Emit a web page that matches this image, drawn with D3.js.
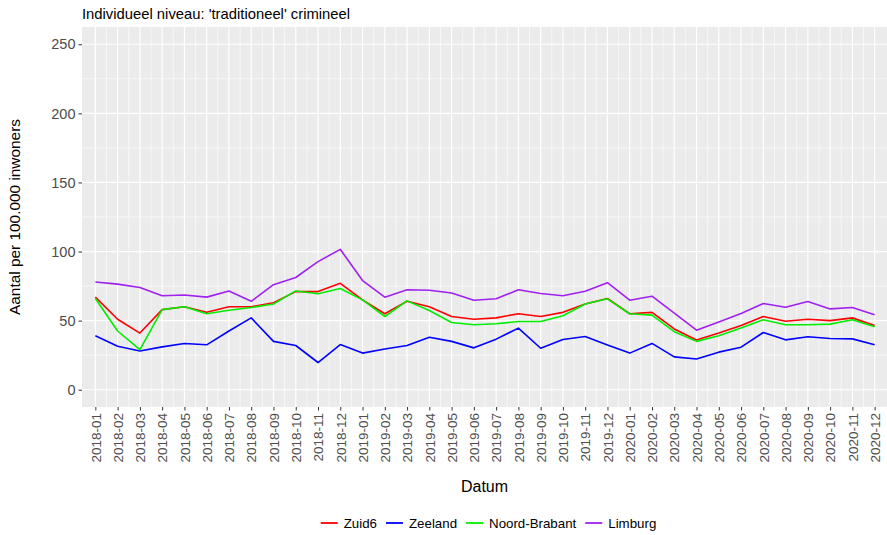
<!DOCTYPE html>
<html>
<head>
<meta charset="utf-8">
<script src="https://cdn.jsdelivr.net/npm/d3@7"></script>
<style>
    body { margin: 0; background: #fff; }
    text { font-family: "Liberation Sans", Arial, sans-serif; }
</style>
</head>
<body>
<div id="chart"></div>
<script>
/*
 * Data
 * */

var months = [
    '2018-01', '2018-02', '2018-03', '2018-04', '2018-05', '2018-06',
    '2018-07', '2018-08', '2018-09', '2018-10', '2018-11', '2018-12',
    '2019-01', '2019-02', '2019-03', '2019-04', '2019-05', '2019-06',
    '2019-07', '2019-08', '2019-09', '2019-10', '2019-11', '2019-12',
    '2020-01', '2020-02', '2020-03', '2020-04', '2020-05', '2020-06',
    '2020-07', '2020-08', '2020-09', '2020-10', '2020-11', '2020-12'
];

var zuid6 = [67, 51, 41, 58, 60, 56, 60, 60, 63, 71, 71, 77,
    65, 55, 64, 60, 53, 51, 52, 55, 53, 56, 62, 66,
    55, 56, 44, 36, 41, 46.5, 53, 49.5, 51, 50, 52, 46.5];

var zeeland = [39, 31.5, 28, 31, 33.5, 32.5, 42.5, 52, 35, 32, 19.7, 32.7,
    26.5, 29.5, 32, 38, 35, 30.3, 36.6, 44.6, 30, 36.4, 38.5, 32.3,
    26.5, 33.5, 23.8, 22.2, 27.2, 30.8, 41.4, 36.1, 38.3, 37.1, 36.8, 32.5];

var noordBrabant = [66, 42.5, 29, 58, 60, 55, 57.5, 59.5, 62, 71.5, 69.5, 73.2,
    65, 53, 64.3, 57.3, 48.6, 47, 47.7, 49.4, 49.4, 53.5, 62, 65.8,
    55, 54, 42, 35, 39, 44.6, 50.6, 47, 47, 47.5, 50.6, 45.5];

var limburg = [78, 76.4, 74, 68, 68.6, 67, 71.5, 64, 76, 81.2, 92.7, 101.6,
    79, 67, 72.3, 72, 70, 64.8, 65.8, 72.3, 69.6, 68, 71.3, 77.5,
    64.8, 67.7, 55.4, 43.1, 49.1, 55.1, 62.4, 59.7, 63.8, 58.5, 59.5, 54.2];

var seriesNames = ['Zuid6', 'Zeeland', 'Noord-Brabant', 'Limburg'];
var seriesColours = ['#ff0000', '#0000ff', '#00ee00', '#a020f0'];
var yTicks = [0, 50, 100, 150, 200, 250];

/*
 * Layout
 * */

var width = 887,
    height = 535,
    panel = { left: 82, right: 888, top: 27, bottom: 407 },
    textGrey = '#4d4d4d';

var svg = d3.select('#chart')
    .append('svg')
    .attr('width', width)
    .attr('height', height);

var x = d3.scaleLinear()
    .domain([-0.6, months.length - 1 + 0.6])
    .range([panel.left, panel.right]);

var y = d3.scaleLinear()
    .domain([-12.5, 262.5])
    .range([panel.bottom, panel.top]);

// panel background
svg.append('rect')
    .attr('x', panel.left)
    .attr('y', panel.top)
    .attr('width', panel.right - panel.left)
    .attr('height', panel.bottom - panel.top)
    .attr('fill', '#ebebeb');

/*
 * Grid
 * */

var grid = svg.append('g');

// minor grid
grid.selectAll('.minor-y')
    .data(d3.range(25, 250, 50))
    .enter().append('line')
    .attr('x1', panel.left).attr('x2', panel.right)
    .attr('y1', function (d) { return y(d); })
    .attr('y2', function (d) { return y(d); })
    .attr('stroke', '#fff').attr('stroke-width', 0.6);

grid.selectAll('.minor-x')
    .data(d3.range(0.5, months.length - 1, 1))
    .enter().append('line')
    .attr('y1', panel.top).attr('y2', panel.bottom)
    .attr('x1', function (d) { return x(d); })
    .attr('x2', function (d) { return x(d); })
    .attr('stroke', '#fff').attr('stroke-width', 0.6);

// major grid
grid.selectAll('.major-y')
    .data(yTicks)
    .enter().append('line')
    .attr('x1', panel.left).attr('x2', panel.right)
    .attr('y1', function (d) { return y(d); })
    .attr('y2', function (d) { return y(d); })
    .attr('stroke', '#fff').attr('stroke-width', 1.2);

grid.selectAll('.major-x')
    .data(months)
    .enter().append('line')
    .attr('y1', panel.top).attr('y2', panel.bottom)
    .attr('x1', function (d, i) { return x(i); })
    .attr('x2', function (d, i) { return x(i); })
    .attr('stroke', '#fff').attr('stroke-width', 1.2);

/*
 * Axes
 * */

var yAxis = svg.append('g')
    .attr('transform', 'translate(' + panel.left + ',0)')
    .call(d3.axisLeft(y).tickValues(yTicks).tickSize(3.5).tickPadding(3));

var xAxis = svg.append('g')
    .attr('transform', 'translate(0,' + panel.bottom + ')')
    .call(d3.axisBottom(x)
        .tickValues(d3.range(months.length))
        .tickFormat(function (i) { return months[i]; })
        .tickSize(3.5));

[yAxis, xAxis].forEach(function (ax) {
    ax.select('.domain').remove();
    ax.selectAll('.tick line').attr('stroke', '#333');
    ax.selectAll('.tick text')
        .attr('fill', textGrey)
        .style('font-size', '13.5px')
        .style('font-family', '"Liberation Sans", Arial, sans-serif');
});

yAxis.selectAll('.tick text').style('font-size', '14.5px');

xAxis.selectAll('.tick text')
    .attr('transform', 'rotate(-90)')
    .attr('text-anchor', 'end')
    .attr('x', -6)
    .attr('y', 0)
    .attr('dy', '0.35em');

/*
 * Lines
 * */

var allSeries = [zuid6, zeeland, noordBrabant, limburg];

var line = d3.line()
    .x(function (d, i) { return x(i); })
    .y(function (d) { return y(d); });

svg.append('g')
    .selectAll('path')
    .data(allSeries)
    .enter().append('path')
    .attr('d', line)
    .attr('fill', 'none')
    .attr('stroke', function (d, i) { return seriesColours[i]; })
    .attr('stroke-width', 1.6)
    .attr('stroke-linejoin', 'round');

/*
 * Titles
 * */

svg.append('text')
    .attr('x', panel.left)
    .attr('y', 19)
    .style('font-size', '14.8px')
    .attr('fill', '#000')
    .text("Individueel niveau: 'traditioneel' crimineel");

svg.append('text')
    .attr('transform', 'translate(20,' + ((panel.top + panel.bottom) / 2) + ') rotate(-90)')
    .attr('text-anchor', 'middle')
    .style('font-size', '15.4px')
    .text('Aantal per 100.000 inwoners');

svg.append('text')
    .attr('x', (panel.left + width) / 2)
    .attr('y', 492)
    .attr('text-anchor', 'middle')
    .style('font-size', '16px')
    .text('Datum');

/*
 * Legend
 * */

var legend = svg.append('g');
var legendX = 0;

seriesNames.forEach(function (name, i) {
    var item = legend.append('g').attr('transform', 'translate(' + legendX + ',0)');
    item.append('line')
        .attr('x1', 0).attr('x2', 17)
        .attr('y1', 0).attr('y2', 0)
        .attr('stroke', seriesColours[i])
        .attr('stroke-width', 1.8);
    var label = item.append('text')
        .attr('x', 23)
        .attr('dy', '0.35em')
        .style('font-size', '13.3px')
        .text(name);
    legendX += 23 + label.node().getComputedTextLength() + 9;
});

var legendWidth = legendX - 9;
legend.attr('transform', 'translate(' + (488.5 - legendWidth / 2) + ',523)');
</script>
</body>
</html>
